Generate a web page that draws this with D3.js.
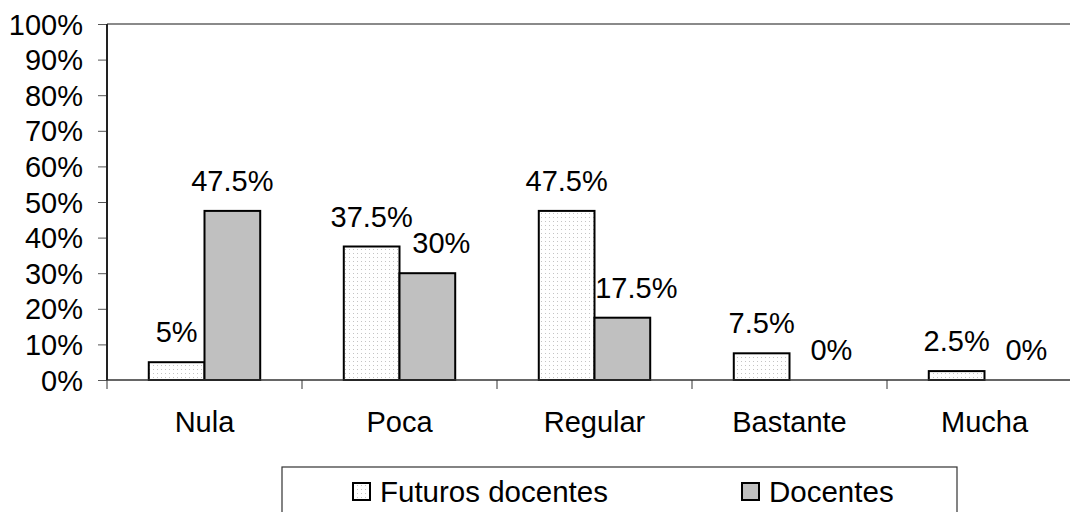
<!DOCTYPE html>
<html>
<head>
<meta charset="utf-8">
<script src="https://cdn.jsdelivr.net/npm/d3@7"></script>
<style>
  html, body { margin: 0; padding: 0; background: #fff; }
  svg { display: block; }
  text { font-family: "Liberation Sans", Arial, sans-serif; fill: #000; }
</style>
</head>
<body>
<svg id="chart" width="1070" height="512"></svg>
<script>
// Category labels and series values (percent)
const categories = ["Nula", "Poca", "Regular", "Bastante", "Mucha"];
const seriesNames = ["Futuros docentes", "Docentes"];
const futurosDocentes = [5, 37.5, 47.5, 7.5, 2.5];
const docentes = [47.5, 30, 17.5, 0, 0];
const yTicks = [0, 10, 20, 30, 40, 50, 60, 70, 80, 90, 100];

const seriesValues = [futurosDocentes, docentes];

const svg = d3.select("#chart");
const W = 1070, H = 512;
const plot = { left: 107, top: 24, right: 1082, bottom: 380 };
const FONT = 29;

svg.append("rect").attr("width", W).attr("height", H).attr("fill", "#fff");

// Dotted fill for the first series
const defs = svg.append("defs");
const pat = defs.append("pattern")
  .attr("id", "dots").attr("patternUnits", "userSpaceOnUse")
  .attr("width", 4).attr("height", 4);
pat.append("rect").attr("width", 4).attr("height", 4).attr("fill", "#fff");
pat.append("rect").attr("x", 1).attr("y", 1).attr("width", 1).attr("height", 1).attr("fill", "#c4c4c4");

const fills = ["url(#dots)", "#c0c0c0"];

const x = d3.scaleBand().domain(categories).range([plot.left, plot.right]).padding(0);
const xs = d3.scaleBand().domain(seriesNames).range([0, x.bandwidth()])
  .paddingInner(0).paddingOuter(0.75);
const y = d3.scaleLinear().domain([0, 100]).range([plot.bottom, plot.top]);

// Top border of the plot area
svg.append("line")
  .attr("x1", plot.left).attr("x2", W)
  .attr("y1", y(100)).attr("y2", y(100))
  .attr("stroke", "#8a8a8a").attr("stroke-width", 2);

// Y axis
const yAxis = d3.axisLeft(y).tickValues(yTicks).tickSize(9).tickPadding(15)
  .tickFormat(d => d + "%");
const gy = svg.append("g").attr("transform", `translate(${plot.left},0)`).call(yAxis);
gy.select(".domain").remove();
gy.selectAll(".tick line").attr("stroke", "#555").attr("stroke-width", 1);
gy.selectAll(".tick text")
  .attr("font-size", FONT).attr("font-family", "Liberation Sans, Arial, sans-serif")
  .attr("fill", "#000").attr("dy", "0.35em");

// Bars
const groups = svg.append("g").selectAll("g")
  .data(seriesNames).join("g");

groups.each(function (name, si) {
  d3.select(this).selectAll("rect")
    .data(categories)
    .join("rect")
    .attr("x", c => x(c) + xs(name))
    .attr("y", (c, i) => y(seriesValues[si][i]))
    .attr("width", xs.bandwidth())
    .attr("height", (c, i) => y(0) - y(seriesValues[si][i]))
    .attr("fill", fills[si])
    .attr("stroke", "#000")
    .attr("stroke-width", 2);
});

// X axis line and tick marks between categories
svg.append("line")
  .attr("x1", plot.left).attr("x2", W)
  .attr("y1", y(0)).attr("y2", y(0))
  .attr("stroke", "#333").attr("stroke-width", 1.5);

const boundaries = categories.map(c => x(c));
svg.append("g").selectAll("line").data(boundaries).join("line")
  .attr("x1", d => d).attr("x2", d => d)
  .attr("y1", y(0)).attr("y2", y(0) + 9)
  .attr("stroke", "#333").attr("stroke-width", 1);

// Y axis line
svg.append("line")
  .attr("x1", plot.left).attr("x2", plot.left)
  .attr("y1", y(100)).attr("y2", y(0))
  .attr("stroke", "#222").attr("stroke-width", 2);

// Category labels
svg.append("g").selectAll("text").data(categories).join("text")
  .attr("x", c => x(c) + x.bandwidth() / 2)
  .attr("y", 432)
  .attr("text-anchor", "middle")
  .attr("font-size", FONT)
  .text(c => c);

// Value labels; the second series label moves right when it would sit under the first one
const fmt = v => (Number.isInteger(v) ? v : v.toFixed(1)) + "%";
seriesNames.forEach((name, si) => {
  svg.append("g").selectAll("text").data(categories).join("text")
    .attr("x", (c, i) => {
      const cx = x(c) + xs(name) + xs.bandwidth() / 2;
      const shift = si === 1 && seriesValues[1][i] < seriesValues[0][i] ? 14 : 0;
      return cx + shift;
    })
    .attr("y", (c, i) => y(seriesValues[si][i]) - 20)
    .attr("text-anchor", "middle")
    .attr("font-size", FONT)
    .text((c, i) => fmt(seriesValues[si][i]));
});

// Legend
const legend = svg.append("g");
legend.append("rect")
  .attr("x", 282).attr("y", 467).attr("width", 675).attr("height", 60)
  .attr("fill", "#fff").attr("stroke", "#333").attr("stroke-width", 1.2);

const legendPos = [353, 742];
seriesNames.forEach((name, si) => {
  const lx = legendPos[si];
  legend.append("rect")
    .attr("x", lx).attr("y", 483).attr("width", 17).attr("height", 17)
    .attr("fill", fills[si]).attr("stroke", "#000").attr("stroke-width", 2);
  legend.append("text")
    .attr("x", lx + 27).attr("y", 502)
    .attr("font-size", 29.5)
    .text(name);
});
</script>
</body>
</html>
